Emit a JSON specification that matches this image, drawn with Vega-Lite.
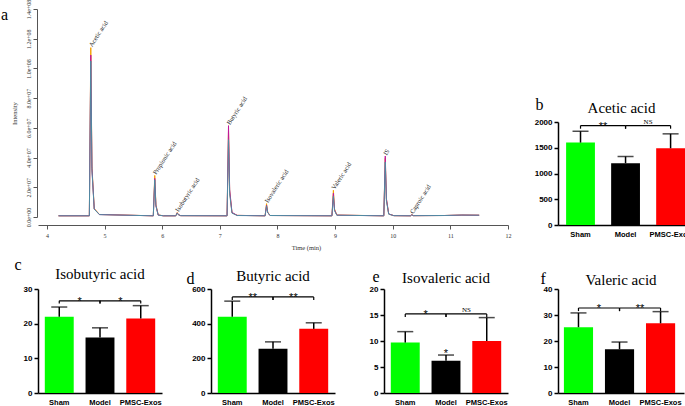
{
"$schema": "https://vega.github.io/schema/vega-lite/v6.json",
"padding": {"left": 1, "top": -1, "right": 0, "bottom": 0},
"background": "white",
"config": {"view": {"stroke": null}, "axis": {"labelOverlap": false}},
"bounds": "full",
"spacing": 23,
"resolve": {"scale": {"color": "independent"}},
"hconcat": [
{"vconcat": [
{
"width": 470, "height": 208,
"title": {"text": "a", "anchor": "start", "frame": "group", "font": "Liberation Serif", "fontSize": 16, "fontWeight": "normal", "color": "black", "dx": -37, "dy": 41, "baseline": "alphabetic", "offset": 4},
"layer": [
{"data": {"values": [
{"s":"O","rt":4.2,"i":800000},
{"s":"O","rt":4.735,"i":800000},{"s":"O","rt":4.76,"i":114000000},{"s":"O","rt":4.78,"i":34200000},{"s":"O","rt":4.82,"i":5700000},{"s":"O","rt":4.91,"i":1700000},
{"s":"O","rt":5.845,"i":800000},{"s":"O","rt":5.87,"i":28000000},{"s":"O","rt":5.89,"i":8400000},{"s":"O","rt":5.93,"i":1400000},{"s":"O","rt":6.02,"i":800000},
{"s":"O","rt":6.235,"i":800000},{"s":"O","rt":6.26,"i":3000000},{"s":"O","rt":6.28,"i":1600000},{"s":"O","rt":6.32,"i":900000},
{"s":"O","rt":7.125,"i":800000},{"s":"O","rt":7.15,"i":58000000},{"s":"O","rt":7.17,"i":17400000},{"s":"O","rt":7.21,"i":2900000},{"s":"O","rt":7.3,"i":1100000},
{"s":"O","rt":7.785,"i":800000},{"s":"O","rt":7.81,"i":9000000},{"s":"O","rt":7.83,"i":3300000},{"s":"O","rt":7.87,"i":1000000},
{"s":"O","rt":8.945,"i":800000},{"s":"O","rt":8.97,"i":18000000},{"s":"O","rt":8.99,"i":5400000},{"s":"O","rt":9.03,"i":1300000},
{"s":"O","rt":9.845,"i":800000},{"s":"O","rt":9.87,"i":39500000},{"s":"O","rt":9.89,"i":11900000},{"s":"O","rt":9.93,"i":2000000},{"s":"O","rt":10.02,"i":900000},
{"s":"O","rt":10.31,"i":800000},{"s":"O","rt":10.33,"i":1600000},{"s":"O","rt":10.36,"i":900000},
{"s":"O","rt":10.9,"i":1000000},{"s":"O","rt":11.2,"i":1300000},{"s":"O","rt":11.5,"i":1200000},
{"s":"P","rt":4.2,"i":800000},
{"s":"P","rt":4.735,"i":800000},{"s":"P","rt":4.76,"i":109000000},{"s":"P","rt":4.78,"i":32700000},{"s":"P","rt":4.82,"i":5450000},{"s":"P","rt":4.91,"i":1650000},
{"s":"P","rt":5.845,"i":800000},{"s":"P","rt":5.87,"i":26000000},{"s":"P","rt":5.89,"i":7800000},{"s":"P","rt":5.93,"i":1300000},{"s":"P","rt":6.02,"i":800000},
{"s":"P","rt":6.235,"i":800000},{"s":"P","rt":6.26,"i":2800000},{"s":"P","rt":6.28,"i":1550000},{"s":"P","rt":6.32,"i":900000},
{"s":"P","rt":7.125,"i":800000},{"s":"P","rt":7.15,"i":61500000},{"s":"P","rt":7.17,"i":18500000},{"s":"P","rt":7.21,"i":3100000},{"s":"P","rt":7.3,"i":1100000},
{"s":"P","rt":7.785,"i":800000},{"s":"P","rt":7.81,"i":8000000},{"s":"P","rt":7.83,"i":3100000},{"s":"P","rt":7.87,"i":1000000},
{"s":"P","rt":8.945,"i":800000},{"s":"P","rt":8.97,"i":16000000},{"s":"P","rt":8.99,"i":4800000},{"s":"P","rt":9.03,"i":1250000},
{"s":"P","rt":9.845,"i":800000},{"s":"P","rt":9.87,"i":41000000},{"s":"P","rt":9.89,"i":12300000},{"s":"P","rt":9.93,"i":2050000},{"s":"P","rt":10.02,"i":900000},
{"s":"P","rt":10.31,"i":800000},{"s":"P","rt":10.33,"i":1500000},{"s":"P","rt":10.36,"i":900000},
{"s":"P","rt":10.9,"i":1000000},{"s":"P","rt":11.2,"i":1300000},{"s":"P","rt":11.5,"i":1200000},
{"s":"T","rt":4.2,"i":800000},
{"s":"T","rt":4.735,"i":800000},{"s":"T","rt":4.76,"i":105000000},{"s":"T","rt":4.78,"i":31500000},{"s":"T","rt":4.82,"i":5250000},{"s":"T","rt":4.91,"i":1600000},
{"s":"T","rt":5.845,"i":800000},{"s":"T","rt":5.87,"i":25000000},{"s":"T","rt":5.89,"i":7500000},{"s":"T","rt":5.93,"i":1250000},{"s":"T","rt":6.02,"i":800000},
{"s":"T","rt":6.235,"i":800000},{"s":"T","rt":6.26,"i":2600000},{"s":"T","rt":6.28,"i":1500000},{"s":"T","rt":6.32,"i":900000},
{"s":"T","rt":7.125,"i":800000},{"s":"T","rt":7.15,"i":52000000},{"s":"T","rt":7.17,"i":15600000},{"s":"T","rt":7.21,"i":2600000},{"s":"T","rt":7.3,"i":1000000},
{"s":"T","rt":7.785,"i":800000},{"s":"T","rt":7.81,"i":7500000},{"s":"T","rt":7.83,"i":3000000},{"s":"T","rt":7.87,"i":1000000},
{"s":"T","rt":8.945,"i":800000},{"s":"T","rt":8.97,"i":14000000},{"s":"T","rt":8.99,"i":4200000},{"s":"T","rt":9.03,"i":1200000},
{"s":"T","rt":9.845,"i":800000},{"s":"T","rt":9.87,"i":37000000},{"s":"T","rt":9.89,"i":11000000},{"s":"T","rt":9.93,"i":1900000},{"s":"T","rt":10.02,"i":900000},
{"s":"T","rt":10.31,"i":800000},{"s":"T","rt":10.33,"i":1400000},{"s":"T","rt":10.36,"i":900000},
{"s":"T","rt":10.9,"i":1000000},{"s":"T","rt":11.2,"i":1300000},{"s":"T","rt":11.5,"i":1200000}
]},
"mark": {"type": "line", "strokeWidth": 1},
"encoding": {
"x": {"field": "rt", "type": "quantitative", "scale": {"domain": [3.844, 12], "nice": false, "zero": false},
"axis": {"values": [4,5,6,7,8,9,10,11,12], "tickCount": 30, "format": "d", "offset": 8, "tickSize": 4, "labelPadding": 3, "labelFont": "Liberation Serif", "labelFontSize": 6, "labelColor": "#333", "labelFlush": false, "labelOverlap": false, "domainColor": "#555", "tickColor": "#555", "grid": false, "title": "Time (min)", "titleFont": "Liberation Serif", "titleFontSize": 6.5, "titleFontWeight": "normal", "titleColor": "#333", "titleX": 268, "titlePadding": 6}},
"y": {"field": "i", "type": "quantitative", "scale": {"domain": [0, 140000000], "nice": false},
"axis": {"values": [0,20000000,40000000,60000000,80000000,100000000,120000000,140000000], "tickCount": 30, "offset": 1, "labelAngle": -90, "labelAlign": "center", "labelBaseline": "bottom", "labelExpr": "replace(format(datum.value, '.1e'), 'e+', 'e+0')", "labelPadding": 2, "tickSize": 4, "labelFont": "Liberation Serif", "labelFontSize": 6, "labelColor": "#333", "labelFlush": false, "labelOverlap": false, "domainColor": "#555", "tickColor": "#555", "grid": false, "title": "Intensity", "titleFont": "Liberation Serif", "titleFontSize": 6.5, "titleFontWeight": "normal", "titleColor": "#333", "titlePadding": 8}},
"color": {"field": "s", "type": "nominal", "scale": {"domain": ["O","P","T"], "range": ["#f5a000", "#c0179a", "#4e8ca3"]}, "legend": null}
}},
{"data": {"values": [
{"name":"Acetic acid","rt":4.76,"i":114000000},
{"name":"Propionic acid","rt":5.87,"i":28000000},
{"name":"Isobutyric acid","rt":6.26,"i":3000000},
{"name":"Butyric acid","rt":7.15,"i":61500000},
{"name":"Isovaleric acid","rt":7.81,"i":9000000},
{"name":"Valeric acid","rt":8.97,"i":18000000},
{"name":"IS","rt":9.87,"i":41000000},
{"name":"Caproic acid","rt":10.33,"i":1600000}
]},
"mark": {"type": "text", "angle": -57, "align": "left", "baseline": "middle", "font": "Liberation Serif", "fontSize": 6.5, "color": "#222", "dx": 1, "dy": -1},
"encoding": {"x": {"field": "rt", "type": "quantitative"}, "y": {"field": "i", "type": "quantitative"}, "text": {"field": "name"}}}
]
},
{"hconcat": [
{
"width": 124, "height": 104,
"title": {"text": "Isobutyric acid", "font": "Liberation Serif", "fontSize": 15, "fontWeight": "normal", "color": "black", "anchor": "middle", "frame": "group", "offset": 4, "dy": 30},
"layer": [
{"data": {"values": [{"g":"Sham","v":22,"e":24.8},{"g":"Model","v":16,"e":18.8},{"g":"PMSC-Exos","v":21.5,"e":25.2}]},
"layer": [
{"mark": {"type": "bar"}, "encoding": {
"x": {"field": "g", "type": "nominal", "sort": null, "scale": {"domain": ["Sham","Model","PMSC-Exos"], "paddingInner": 0.29, "paddingOuter": 0.167},
"axis": {"title": null, "labelAngle": 0, "labelFont": "Liberation Sans", "labelFontSize": 7.5, "labelFontWeight": "bold", "labelColor": "black", "domainColor": "black", "domainWidth": 1.5, "ticks": false, "labelPadding": 5}},
"y": {"field": "v", "type": "quantitative", "scale": {"domain": [0, 30], "nice": false},
"axis": {"values": [0,10,20,30], "tickCount": 30, "labelOverlap": false, "format": "d", "title": "c", "titleAngle": 0, "titleX": -24, "titleY": -20, "titleAlign": "left", "titleBaseline": "alphabetic", "titleFont": "Liberation Serif", "titleFontSize": 16, "titleFontWeight": "normal", "titleColor": "black", "labelFont": "Liberation Sans", "labelFontSize": 8, "labelFontWeight": "bold", "labelColor": "black", "domainColor": "black", "domainWidth": 1.5, "tickColor": "black", "tickWidth": 1.5, "tickSize": 4, "labelPadding": 2, "grid": false}},
"color": {"field": "g", "type": "nominal", "scale": {"domain": ["Sham","Model","PMSC-Exos"], "range": ["#00ff00","#000000","#ff0000"]}, "legend": null}}},
{"mark": {"type": "rule", "color": "black", "strokeWidth": 1.5}, "encoding": {"x": {"field": "g", "type": "nominal"}, "y": {"field": "v", "type": "quantitative"}, "y2": {"field": "e"}}},
{"mark": {"type": "tick", "orient": "horizontal", "color": "black", "size": 16, "thickness": 1.5}, "encoding": {"x": {"field": "g", "type": "nominal"}, "y": {"field": "e", "type": "quantitative"}}}
]},
{"data": {"values": [{"a":"Sham","b":"Model","y":26.6,"yd":25.8,"t":"*"},{"a":"Model","b":"PMSC-Exos","y":26.6,"yd":25.8,"t":"*"}]},
"layer": [
{"mark": {"type": "rule", "color": "black", "strokeWidth": 1.2}, "encoding": {"x": {"field": "a", "type": "nominal"}, "x2": {"field": "b"}, "y": {"field": "y", "type": "quantitative"}}},
{"mark": {"type": "rule", "color": "black", "strokeWidth": 1.2}, "encoding": {"x": {"field": "a", "type": "nominal"}, "y": {"field": "y", "type": "quantitative"}, "y2": {"field": "yd"}}},
{"mark": {"type": "rule", "color": "black", "strokeWidth": 1.2}, "encoding": {"x": {"field": "b", "type": "nominal"}, "y": {"field": "y", "type": "quantitative"}, "y2": {"field": "yd"}}},
{"transform": [{"filter": "datum.t != 'NS'"}], "mark": {"type": "text", "font": "Liberation Sans", "fontSize": 11, "dx": 20.4, "dy": 4, "baseline": "alphabetic", "color": "black"}, "encoding": {"x": {"field": "a", "type": "nominal"}, "y": {"field": "y", "type": "quantitative"}, "text": {"field": "t"}}}
]}
]
},
{
"width": 124, "height": 104,
"title": {"text": "Butyric acid", "font": "Liberation Serif", "fontSize": 15, "fontWeight": "normal", "color": "black", "anchor": "middle", "frame": "group", "offset": 4, "dy": 18},
"layer": [
{"data": {"values": [{"g":"Sham","v":440,"e":530},{"g":"Model","v":255,"e":295},{"g":"PMSC-Exos","v":370,"e":405}]},
"layer": [
{"mark": {"type": "bar"}, "encoding": {
"x": {"field": "g", "type": "nominal", "sort": null, "scale": {"domain": ["Sham","Model","PMSC-Exos"], "paddingInner": 0.29, "paddingOuter": 0.167},
"axis": {"title": null, "labelAngle": 0, "labelFont": "Liberation Sans", "labelFontSize": 7.5, "labelFontWeight": "bold", "labelColor": "black", "domainColor": "black", "domainWidth": 1.5, "ticks": false, "labelPadding": 5}},
"y": {"field": "v", "type": "quantitative", "scale": {"domain": [0, 600], "nice": false},
"axis": {"values": [0,200,400,600], "tickCount": 30, "labelOverlap": false, "format": "d", "title": "d", "titleAngle": 0, "titleX": -25, "titleY": -6, "titleAlign": "left", "titleBaseline": "alphabetic", "titleFont": "Liberation Serif", "titleFontSize": 16, "titleFontWeight": "normal", "titleColor": "black", "labelFont": "Liberation Sans", "labelFontSize": 8, "labelFontWeight": "bold", "labelColor": "black", "domainColor": "black", "domainWidth": 1.5, "tickColor": "black", "tickWidth": 1.5, "tickSize": 4, "labelPadding": 2, "grid": false}},
"color": {"field": "g", "type": "nominal", "scale": {"domain": ["Sham","Model","PMSC-Exos"], "range": ["#00ff00","#000000","#ff0000"]}, "legend": null}}},
{"mark": {"type": "rule", "color": "black", "strokeWidth": 1.5}, "encoding": {"x": {"field": "g", "type": "nominal"}, "y": {"field": "v", "type": "quantitative"}, "y2": {"field": "e"}}},
{"mark": {"type": "tick", "orient": "horizontal", "color": "black", "size": 16, "thickness": 1.5}, "encoding": {"x": {"field": "g", "type": "nominal"}, "y": {"field": "e", "type": "quantitative"}}}
]},
{"data": {"values": [{"a":"Sham","b":"Model","y":554,"yd":537,"t":"**"},{"a":"Model","b":"PMSC-Exos","y":554,"yd":537,"t":"**"}]},
"layer": [
{"mark": {"type": "rule", "color": "black", "strokeWidth": 1.2}, "encoding": {"x": {"field": "a", "type": "nominal"}, "x2": {"field": "b"}, "y": {"field": "y", "type": "quantitative"}}},
{"mark": {"type": "rule", "color": "black", "strokeWidth": 1.2}, "encoding": {"x": {"field": "a", "type": "nominal"}, "y": {"field": "y", "type": "quantitative"}, "y2": {"field": "yd"}}},
{"mark": {"type": "rule", "color": "black", "strokeWidth": 1.2}, "encoding": {"x": {"field": "b", "type": "nominal"}, "y": {"field": "y", "type": "quantitative"}, "y2": {"field": "yd"}}},
{"transform": [{"filter": "datum.t != 'NS'"}], "mark": {"type": "text", "font": "Liberation Sans", "fontSize": 11, "dx": 20.4, "dy": 4, "baseline": "alphabetic", "color": "black"}, "encoding": {"x": {"field": "a", "type": "nominal"}, "y": {"field": "y", "type": "quantitative"}, "text": {"field": "t"}}}
]}
]
},
{
"width": 124, "height": 104,
"title": {"text": "Isovaleric acid", "font": "Liberation Serif", "fontSize": 15, "fontWeight": "normal", "color": "black", "anchor": "middle", "frame": "group", "offset": 4, "dy": 22},
"layer": [
{"data": {"values": [{"g":"Sham","v":9.7,"e":11.8},{"g":"Model","v":6.2,"e":7.3},{"g":"PMSC-Exos","v":10,"e":14.5}]},
"layer": [
{"mark": {"type": "bar"}, "encoding": {
"x": {"field": "g", "type": "nominal", "sort": null, "scale": {"domain": ["Sham","Model","PMSC-Exos"], "paddingInner": 0.29, "paddingOuter": 0.167},
"axis": {"title": null, "labelAngle": 0, "labelFont": "Liberation Sans", "labelFontSize": 7.5, "labelFontWeight": "bold", "labelColor": "black", "domainColor": "black", "domainWidth": 1.5, "ticks": false, "labelPadding": 5}},
"y": {"field": "v", "type": "quantitative", "scale": {"domain": [0, 20], "nice": false},
"axis": {"values": [0,5,10,15,20], "tickCount": 30, "labelOverlap": false, "format": "d", "title": "e", "titleAngle": 0, "titleX": -12, "titleY": -8, "titleAlign": "left", "titleBaseline": "alphabetic", "titleFont": "Liberation Serif", "titleFontSize": 16, "titleFontWeight": "normal", "titleColor": "black", "labelFont": "Liberation Sans", "labelFontSize": 8, "labelFontWeight": "bold", "labelColor": "black", "domainColor": "black", "domainWidth": 1.5, "tickColor": "black", "tickWidth": 1.5, "tickSize": 4, "labelPadding": 2, "grid": false}},
"color": {"field": "g", "type": "nominal", "scale": {"domain": ["Sham","Model","PMSC-Exos"], "range": ["#00ff00","#000000","#ff0000"]}, "legend": null}}},
{"mark": {"type": "rule", "color": "black", "strokeWidth": 1.5}, "encoding": {"x": {"field": "g", "type": "nominal"}, "y": {"field": "v", "type": "quantitative"}, "y2": {"field": "e"}}},
{"mark": {"type": "tick", "orient": "horizontal", "color": "black", "size": 16, "thickness": 1.5}, "encoding": {"x": {"field": "g", "type": "nominal"}, "y": {"field": "e", "type": "quantitative"}}}
]},
{"data": {"values": [{"a":"Sham","b":"Model","y":15.2,"yd":14.6,"t":"*"},{"a":"Model","b":"PMSC-Exos","y":15.2,"yd":14.6,"t":"NS"}]},
"layer": [
{"mark": {"type": "rule", "color": "black", "strokeWidth": 1.2}, "encoding": {"x": {"field": "a", "type": "nominal"}, "x2": {"field": "b"}, "y": {"field": "y", "type": "quantitative"}}},
{"mark": {"type": "rule", "color": "black", "strokeWidth": 1.2}, "encoding": {"x": {"field": "a", "type": "nominal"}, "y": {"field": "y", "type": "quantitative"}, "y2": {"field": "yd"}}},
{"mark": {"type": "rule", "color": "black", "strokeWidth": 1.2}, "encoding": {"x": {"field": "b", "type": "nominal"}, "y": {"field": "y", "type": "quantitative"}, "y2": {"field": "yd"}}},
{"transform": [{"filter": "datum.t != 'NS'"}], "mark": {"type": "text", "font": "Liberation Sans", "fontSize": 11, "dx": 20.4, "dy": 4, "baseline": "alphabetic", "color": "black"}, "encoding": {"x": {"field": "a", "type": "nominal"}, "y": {"field": "y", "type": "quantitative"}, "text": {"field": "t"}}},
{"transform": [{"filter": "datum.t == 'NS'"}], "mark": {"type": "text", "font": "Liberation Serif", "fontSize": 7, "dx": 20.4, "dy": -1.5, "baseline": "alphabetic", "color": "black"}, "encoding": {"x": {"field": "a", "type": "nominal"}, "y": {"field": "y", "type": "quantitative"}, "text": {"field": "t"}}}
]},
{"data": {"values": [{"g":"Model","y":7.7,"t":"*"}]},
"mark": {"type": "text", "font": "Liberation Sans", "fontSize": 11, "dy": 4, "baseline": "alphabetic", "color": "black"},
"encoding": {"x": {"field": "g", "type": "nominal"}, "y": {"field": "y", "type": "quantitative"}, "text": {"field": "t"}}}
]
}
], "spacing": 49, "bounds": "flush", "resolve": {"scale": {"color": "independent"}}}
], "spacing": 72, "bounds": "flush", "resolve": {"scale": {"color": "independent"}}},
{"vconcat": [
{"width": 10, "height": 49, "data": {"values": [{}]}, "mark": {"type": "point", "opacity": 0}},
{
"width": 127, "height": 103,
"title": {"text": "Acetic acid", "font": "Liberation Serif", "fontSize": 15, "fontWeight": "normal", "color": "black", "anchor": "middle", "frame": "group", "offset": 4, "dy": 24},
"layer": [
{"data": {"values": [{"g":"Sham","v":1600,"e":1820},{"g":"Model","v":1200,"e":1330},{"g":"PMSC-Exos","v":1490,"e":1770}]},
"layer": [
{"mark": {"type": "bar"}, "encoding": {
"x": {"field": "g", "type": "nominal", "sort": null, "scale": {"domain": ["Sham","Model","PMSC-Exos"], "paddingInner": 0.36, "paddingOuter": 0.09, "align": 1},
"axis": {"title": null, "labelAngle": 0, "labelFont": "Liberation Sans", "labelFontSize": 7.5, "labelFontWeight": "bold", "labelColor": "black", "domainColor": "black", "domainWidth": 1.5, "ticks": false, "labelPadding": 5}},
"y": {"field": "v", "type": "quantitative", "scale": {"domain": [0, 2000], "nice": false},
"axis": {"values": [0,500,1000,1500,2000], "tickCount": 30, "labelOverlap": false, "format": "d", "title": "b", "titleAngle": 0, "titleX": -23, "titleY": -13, "titleAlign": "left", "titleBaseline": "alphabetic", "titleFont": "Liberation Serif", "titleFontSize": 16, "titleFontWeight": "normal", "titleColor": "black", "labelFont": "Liberation Sans", "labelFontSize": 8, "labelFontWeight": "bold", "labelColor": "black", "domainColor": "black", "domainWidth": 1.5, "tickColor": "black", "tickWidth": 1.5, "tickSize": 4, "labelPadding": 2, "grid": false}},
"color": {"field": "g", "type": "nominal", "scale": {"domain": ["Sham","Model","PMSC-Exos"], "range": ["#00ff00","#000000","#ff0000"]}, "legend": null}}},
{"mark": {"type": "rule", "color": "black", "strokeWidth": 1.5}, "encoding": {"x": {"field": "g", "type": "nominal"}, "y": {"field": "v", "type": "quantitative"}, "y2": {"field": "e"}}},
{"mark": {"type": "tick", "orient": "horizontal", "color": "black", "size": 16, "thickness": 1.5}, "encoding": {"x": {"field": "g", "type": "nominal"}, "y": {"field": "e", "type": "quantitative"}}}
]},
{"data": {"values": [{"a":"Sham","b":"Model","y":1930,"yd":1870,"t":"**"},{"a":"Model","b":"PMSC-Exos","y":1930,"yd":1870,"t":"NS"}]},
"layer": [
{"mark": {"type": "rule", "color": "black", "strokeWidth": 1.2}, "encoding": {"x": {"field": "a", "type": "nominal"}, "x2": {"field": "b"}, "y": {"field": "y", "type": "quantitative"}}},
{"mark": {"type": "rule", "color": "black", "strokeWidth": 1.2}, "encoding": {"x": {"field": "a", "type": "nominal"}, "y": {"field": "y", "type": "quantitative"}, "y2": {"field": "yd"}}},
{"mark": {"type": "rule", "color": "black", "strokeWidth": 1.2}, "encoding": {"x": {"field": "b", "type": "nominal"}, "y": {"field": "y", "type": "quantitative"}, "y2": {"field": "yd"}}},
{"transform": [{"filter": "datum.t != 'NS'"}], "mark": {"type": "text", "font": "Liberation Sans", "fontSize": 11, "dx": 22.5, "dy": 4, "baseline": "alphabetic", "color": "black"}, "encoding": {"x": {"field": "a", "type": "nominal"}, "y": {"field": "y", "type": "quantitative"}, "text": {"field": "t"}}},
{"transform": [{"filter": "datum.t == 'NS'"}], "mark": {"type": "text", "font": "Liberation Serif", "fontSize": 7, "dx": 22.5, "dy": -1.5, "baseline": "alphabetic", "color": "black"}, "encoding": {"x": {"field": "a", "type": "nominal"}, "y": {"field": "y", "type": "quantitative"}, "text": {"field": "t"}}}
]}
]
},
{
"width": 126, "height": 104,
"title": {"text": "Valeric acid", "font": "Liberation Serif", "fontSize": 15, "fontWeight": "normal", "color": "black", "anchor": "middle", "frame": "group", "offset": 4, "dy": 22},
"layer": [
{"data": {"values": [{"g":"Sham","v":25.3,"e":30.8},{"g":"Model","v":16.8,"e":19.6},{"g":"PMSC-Exos","v":26.8,"e":31.3}]},
"layer": [
{"mark": {"type": "bar"}, "encoding": {
"x": {"field": "g", "type": "nominal", "sort": null, "scale": {"domain": ["Sham","Model","PMSC-Exos"], "paddingInner": 0.29, "paddingOuter": 0.18, "align": 0.4},
"axis": {"title": null, "labelAngle": 0, "labelFont": "Liberation Sans", "labelFontSize": 7.5, "labelFontWeight": "bold", "labelColor": "black", "domainColor": "black", "domainWidth": 1.5, "ticks": false, "labelPadding": 5}},
"y": {"field": "v", "type": "quantitative", "scale": {"domain": [0, 40], "nice": false},
"axis": {"values": [0,10,20,30,40], "tickCount": 30, "labelOverlap": false, "format": "d", "title": "f", "titleAngle": 0, "titleX": -18, "titleY": -6, "titleAlign": "left", "titleBaseline": "alphabetic", "titleFont": "Liberation Serif", "titleFontSize": 16, "titleFontWeight": "normal", "titleColor": "black", "labelFont": "Liberation Sans", "labelFontSize": 8, "labelFontWeight": "bold", "labelColor": "black", "domainColor": "black", "domainWidth": 1.5, "tickColor": "black", "tickWidth": 1.5, "tickSize": 4, "labelPadding": 2, "grid": false}},
"color": {"field": "g", "type": "nominal", "scale": {"domain": ["Sham","Model","PMSC-Exos"], "range": ["#00ff00","#000000","#ff0000"]}, "legend": null}}},
{"mark": {"type": "rule", "color": "black", "strokeWidth": 1.5}, "encoding": {"x": {"field": "g", "type": "nominal"}, "y": {"field": "v", "type": "quantitative"}, "y2": {"field": "e"}}},
{"mark": {"type": "tick", "orient": "horizontal", "color": "black", "size": 16, "thickness": 1.5}, "encoding": {"x": {"field": "g", "type": "nominal"}, "y": {"field": "e", "type": "quantitative"}}}
]},
{"data": {"values": [{"a":"Sham","b":"Model","y":32.7,"yd":31.5,"t":"*"},{"a":"Model","b":"PMSC-Exos","y":32.7,"yd":31.5,"t":"**"}]},
"layer": [
{"mark": {"type": "rule", "color": "black", "strokeWidth": 1.2}, "encoding": {"x": {"field": "a", "type": "nominal"}, "x2": {"field": "b"}, "y": {"field": "y", "type": "quantitative"}}},
{"mark": {"type": "rule", "color": "black", "strokeWidth": 1.2}, "encoding": {"x": {"field": "a", "type": "nominal"}, "y": {"field": "y", "type": "quantitative"}, "y2": {"field": "yd"}}},
{"mark": {"type": "rule", "color": "black", "strokeWidth": 1.2}, "encoding": {"x": {"field": "b", "type": "nominal"}, "y": {"field": "y", "type": "quantitative"}, "y2": {"field": "yd"}}},
{"transform": [{"filter": "datum.t != 'NS'"}], "mark": {"type": "text", "font": "Liberation Sans", "fontSize": 11, "dx": 20.5, "dy": 4, "baseline": "alphabetic", "color": "black"}, "encoding": {"x": {"field": "a", "type": "nominal"}, "y": {"field": "y", "type": "quantitative"}, "text": {"field": "t"}}}
]}
]
}
], "spacing": 64, "bounds": "flush", "resolve": {"scale": {"color": "independent"}}}
]
}
